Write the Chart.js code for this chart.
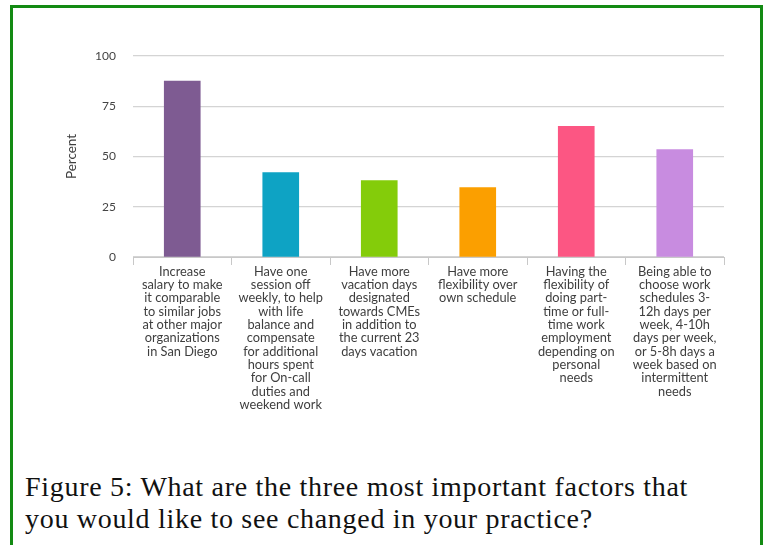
<!DOCTYPE html>
<html>
<head>
<meta charset="utf-8">
<script src="https://cdn.jsdelivr.net/npm/chart.js@4.4.1/dist/chart.umd.min.js"></script>
<style>
  html, body { margin: 0; padding: 0; background: #ffffff; width: 765px; height: 545px; overflow: hidden; }
  #frame {
    position: absolute; left: 10px; top: 5px; width: 747px; height: 620px;
    border: 3px solid #138a13; box-sizing: content-box;
  }
  #wrap { position: absolute; left: 0; top: 0; width: 765px; height: 420px; }
  #caption {
    position: absolute; left: 25px; top: 471px; white-space: nowrap;
    font-family: "Liberation Serif", serif; font-size: 28px; line-height: 32px;
    letter-spacing: 0.7px; color: #111;
  }
</style>
</head>
<body>
<div id="frame"></div>
<div id="wrap"><canvas id="chart"></canvas></div>
<div id="caption">Figure 5: What are the three most important factors that<br>you would like to see changed in your practice?</div>
<script>
// Survey answers: factors respondents want changed (percent of respondents)
const categories = [
  ["Increase", "salary to make", "it comparable", "to similar jobs", "at other major", "organizations", "in San Diego"],
  ["Have one", "session off", "weekly, to help", "with life", "balance and", "compensate", "for additional", "hours spent", "for On-call", "duties and", "weekend work"],
  ["Have more", "vacation days", "designated", "towards CMEs", "in addition to", "the current 23", "days vacation"],
  ["Have more", "flexibility over", "own schedule"],
  ["Having the", "flexibility of", "doing part-", "time or full-", "time work", "employment", "depending on", "personal", "needs"],
  ["Being able to", "choose work", "schedules 3-", "12h days per", "week, 4-10h", "days per week,", "or 5-8h days a", "week based on", "intermittent", "needs"]
];
const percentValues = [87.5, 42, 38, 34.5, 65, 53.5];
const barColors = ["#7e5b92", "#0ea3c4", "#84cc0a", "#fb9f00", "#fc5683", "#c88ce0"];
const yTicks = [0, 25, 50, 75, 100];

new Chart(document.getElementById("chart"), {
  type: "bar",
  data: {
    labels: categories,
    datasets: [{
      data: percentValues,
      backgroundColor: barColors,
      borderWidth: 0,
      barThickness: 36
    }]
  },
  options: {
    responsive: true,
    maintainAspectRatio: false,
    animation: false,
    layout: { padding: { left: 60, right: 41, top: 56, bottom: 0 } },
    plugins: { legend: { display: false }, tooltip: { enabled: false } },
    scales: {
      x: {
        offset: true,
        grid: { offset: true, drawOnChartArea: false, drawTicks: true, tickLength: 8, color: "#c8c8c8" },
        border: { display: true, color: "#c8c8c8", width: 1 },
        ticks: {
          padding: 0, maxRotation: 0, autoSkip: false,
          color: "#3e3e3e", font: { family: "Lato", size: 12.8, lineHeight: 1.04 }
        },
        afterFit: (scale) => { scale.height = 163; }
      },
      y: {
        min: 0, max: 100,
        afterBuildTicks: (scale) => { scale.ticks = yTicks.map(v => ({ value: v })); },
        grid: { color: "#d4d4d4", drawTicks: false, lineWidth: 1.2 },
        border: { display: false },
        ticks: { padding: 17, color: "#444", font: { family: "Lato", size: 12 } },
        title: { display: true, text: "Percent", color: "#3e3e3e", padding: { top: 4, bottom: 0 }, font: { family: "Lato", size: 13.5 } },
        afterFit: (scale) => { scale.width = 73; }
      }
    }
  }
});
</script>
</body>
</html>
